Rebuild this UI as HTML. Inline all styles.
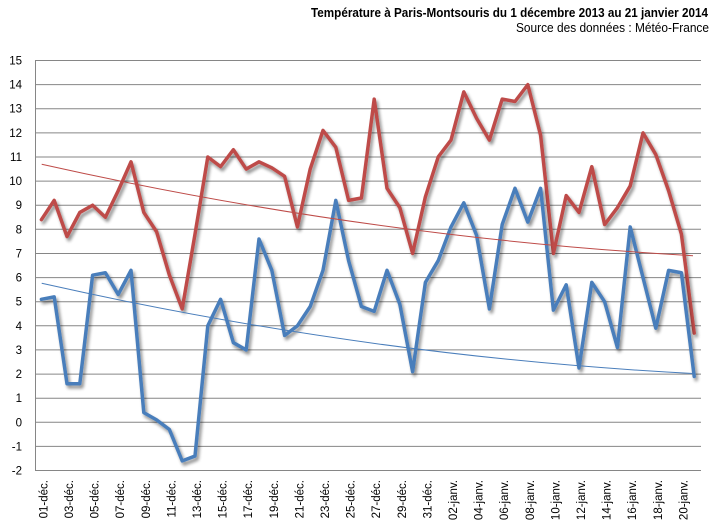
<!DOCTYPE html>
<html><head><meta charset="utf-8"><style>
html,body{margin:0;padding:0;background:#fff;}
svg{display:block;}
text{font-family:"Liberation Sans",Arial,sans-serif;fill:#000;}
</style></head><body>
<svg width="716" height="532" viewBox="0 0 716 532" xmlns="http://www.w3.org/2000/svg">
<defs>
<filter id="sh" x="-10%" y="-10%" width="120%" height="120%">
<feGaussianBlur in="SourceAlpha" stdDeviation="1.6" result="b"/>
<feOffset in="b" dx="2" dy="3" result="o"/>
<feComponentTransfer in="o" result="o2"><feFuncA type="linear" slope="0.45"/></feComponentTransfer>
<feMerge><feMergeNode in="o2"/><feMergeNode in="SourceGraphic"/></feMerge>
</filter>
</defs>
<rect width="716" height="532" fill="#fff"/>
<text x="708" y="17" text-anchor="end" font-size="12.5" font-weight="bold" textLength="397" lengthAdjust="spacingAndGlyphs">Température à Paris-Montsouris  du 1 décembre 2013 au 21 janvier 2014</text>
<text x="709" y="32" text-anchor="end" font-size="12.5" textLength="193" lengthAdjust="spacingAndGlyphs">Source des données : Météo-France</text>

<g stroke="#868686" stroke-width="1">
<line x1="35" x2="701" y1="60.5" y2="60.5"/>
<line x1="35" x2="701" y1="84.6" y2="84.6"/>
<line x1="35" x2="701" y1="108.7" y2="108.7"/>
<line x1="35" x2="701" y1="132.9" y2="132.9"/>
<line x1="35" x2="701" y1="157" y2="157"/>
<line x1="35" x2="701" y1="181.1" y2="181.1"/>
<line x1="35" x2="701" y1="205.2" y2="205.2"/>
<line x1="35" x2="701" y1="229.3" y2="229.3"/>
<line x1="35" x2="701" y1="253.5" y2="253.5"/>
<line x1="35" x2="701" y1="277.6" y2="277.6"/>
<line x1="35" x2="701" y1="301.7" y2="301.7"/>
<line x1="35" x2="701" y1="325.8" y2="325.8"/>
<line x1="35" x2="701" y1="349.9" y2="349.9"/>
<line x1="35" x2="701" y1="374.1" y2="374.1"/>
<line x1="35" x2="701" y1="398.2" y2="398.2"/>
<line x1="35" x2="701" y1="422.3" y2="422.3"/>
<line x1="35" x2="701" y1="446.4" y2="446.4"/>
<line x1="35" x2="701" y1="470.5" y2="470.5"/>
<line x1="35.5" x2="35.5" y1="60" y2="471"/>
</g>

<g font-size="11.5" text-anchor="end">
<text x="22" y="64.5">15</text>
<text x="22" y="88.6">14</text>
<text x="22" y="112.7">13</text>
<text x="22" y="136.9">12</text>
<text x="22" y="161">11</text>
<text x="22" y="185.1">10</text>
<text x="22" y="209.2">9</text>
<text x="22" y="233.3">8</text>
<text x="22" y="257.5">7</text>
<text x="22" y="281.6">6</text>
<text x="22" y="305.7">5</text>
<text x="22" y="329.8">4</text>
<text x="22" y="353.9">3</text>
<text x="22" y="378.1">2</text>
<text x="22" y="402.2">1</text>
<text x="22" y="426.3">0</text>
<text x="22" y="450.4">-1</text>
<text x="22" y="474.5">-2</text>
</g>

<g font-size="11.5" text-anchor="end">
<text transform="translate(47.4,480) rotate(-90)">01-déc.</text>
<text transform="translate(73,480) rotate(-90)">03-déc.</text>
<text transform="translate(98.6,480) rotate(-90)">05-déc.</text>
<text transform="translate(124.2,480) rotate(-90)">07-déc.</text>
<text transform="translate(149.8,480) rotate(-90)">09-déc.</text>
<text transform="translate(175.4,480) rotate(-90)">11-déc.</text>
<text transform="translate(201,480) rotate(-90)">13-déc.</text>
<text transform="translate(226.6,480) rotate(-90)">15-déc.</text>
<text transform="translate(252.2,480) rotate(-90)">17-déc.</text>
<text transform="translate(277.8,480) rotate(-90)">19-déc.</text>
<text transform="translate(303.4,480) rotate(-90)">21-déc.</text>
<text transform="translate(329,480) rotate(-90)">23-déc.</text>
<text transform="translate(354.6,480) rotate(-90)">25-déc.</text>
<text transform="translate(380.2,480) rotate(-90)">27-déc.</text>
<text transform="translate(405.8,480) rotate(-90)">29-déc.</text>
<text transform="translate(431.4,480) rotate(-90)">31-déc.</text>
<text transform="translate(457,480) rotate(-90)">02-janv.</text>
<text transform="translate(482.6,480) rotate(-90)">04-janv.</text>
<text transform="translate(508.2,480) rotate(-90)">06-janv.</text>
<text transform="translate(533.8,480) rotate(-90)">08-janv.</text>
<text transform="translate(559.4,480) rotate(-90)">10-janv.</text>
<text transform="translate(585,480) rotate(-90)">12-janv.</text>
<text transform="translate(610.6,480) rotate(-90)">14-janv.</text>
<text transform="translate(636.2,480) rotate(-90)">16-janv.</text>
<text transform="translate(661.8,480) rotate(-90)">18-janv.</text>
<text transform="translate(687.4,480) rotate(-90)">20-janv.</text>
</g>

<g filter="url(#sh)">
<polyline transform="matrix(12.8 0 0 -24.12 28.6 422.3)" vector-effect="non-scaling-stroke" fill="none" stroke="#BE4B48" stroke-width="3.5" stroke-linejoin="round" stroke-linecap="round"
points="1,8.4 2,9.2 3,7.7 4,8.7 5,9.0 6,8.5 7,9.6 8,10.8 9,8.7 10,7.9 11,6.1 12,4.7 13,7.8 14,11.0 15,10.6 16,11.3 17,10.5 18,10.8 19,10.55 20,10.2 21,8.1 22,10.5 23,12.1 24,11.4 25,9.2 26,9.3 27,13.4 28,9.7 29,8.9 30,7.0 31,9.35 32,11.0 33,11.7 34,13.7 35,12.6 36,11.7 37,13.4 38,13.3 39,14.0 40,11.9 41,7.0 42,9.4 43,8.7 44,10.6 45,8.2 46,8.9 47,9.8 48,12.0 49,11.1 50,9.6 51,7.8 52,3.7"/>
</g>
<g filter="url(#sh)">
<polyline transform="matrix(12.8 0 0 -24.12 28.6 422.3)" vector-effect="non-scaling-stroke" fill="none" stroke="#4A7EBB" stroke-width="3.5" stroke-linejoin="round" stroke-linecap="round"
points="1,5.1 2,5.2 3,1.6 4,1.6 5,6.1 6,6.2 7,5.3 8,6.3 9,0.4 10,0.1 11,-0.3 12,-1.6 13,-1.4 14,4.0 15,5.1 16,3.3 17,3.0 18,7.6 19,6.3 20,3.6 21,4.0 22,4.8 23,6.3 24,9.2 25,6.7 26,4.8 27,4.6 28,6.3 29,4.9 30,2.1 31,5.8 32,6.7 33,8.1 34,9.1 35,7.75 36,4.7 37,8.2 38,9.7 39,8.3 40,9.7 41,4.65 42,5.7 43,2.25 44,5.8 45,5.0 46,3.1 47,8.1 48,6.0 49,3.9 50,6.3 51,6.2 52,1.9"/>
</g>

<path d="M41.7,164.3 Q367.35,237.25 693,255.7" fill="none" stroke="#BE4B48" stroke-width="1"/>
<path d="M41.7,283.3 Q367.35,356.5 693,373.5" fill="none" stroke="#4A7EBB" stroke-width="1"/>
</svg>
</body></html>
